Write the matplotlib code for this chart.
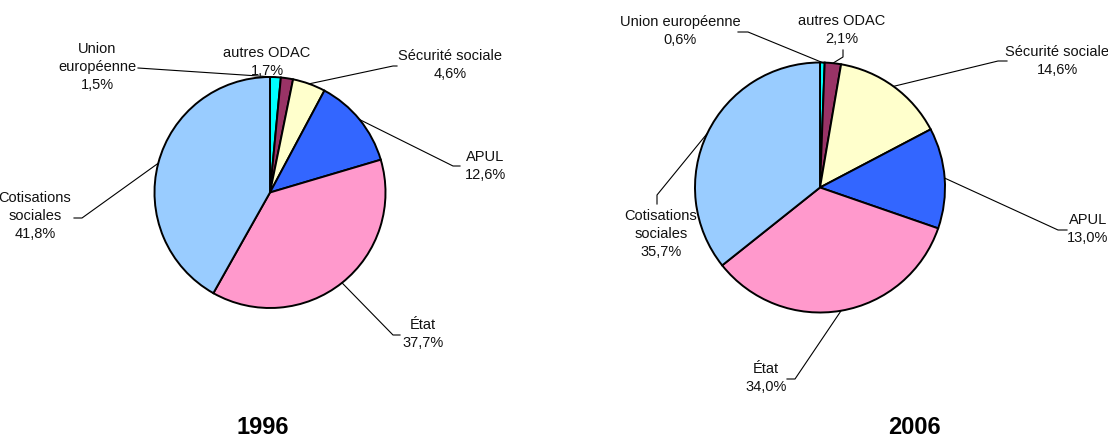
import numpy as np
import matplotlib
matplotlib.use("Agg")
import matplotlib.pyplot as plt

plt.rcParams['font.family'] = ['Liberation Sans', 'DejaVu Sans']

# data
labels = ["Union européenne", "autres ODAC", "Sécurité sociale", "APUL", "État", "Cotisations sociales"]
colors = ["#00FFFF", "#993366", "#FFFFCC", "#3366FF", "#FF99CC", "#99CCFF"]
v1996 = [1.5, 1.7, 4.6, 12.6, 37.7, 41.8]
v2006 = [0.6, 2.1, 14.6, 13.0, 34.0, 35.7]
years = ["1996", "2006"]

# label text (line breaks as in the original)
txt1996 = ["Union\neuropéenne", "autres ODAC", "Sécurité sociale", "APUL", "État", "Cotisations\nsociales"]
txt2006 = ["Union européenne", "autres ODAC", "Sécurité sociale", "APUL", "État", "Cotisations\nsociales"]

W, H = 1108, 438

def fy(y):
    return H - y

# layout in pixels (x, y from top)
pies = [
    dict(center=(270, 192.5), r=115.5, title=(263, 427),
         text=[(97, 67), (267, 62), (450, 65), (485, 166), (423, 334), (35, 216)],
         lead=[[(138, 68)], None, [(397, 66), (393, 66)], [(460, 166), (453, 166)],
               [(400, 335), (393, 335)], [(74, 218), (82, 218)]]),
    dict(center=(820, 187.5), r=125, title=(914, 427),
         text=[(680, 31), (842, 30), (1057, 61), (1088, 229), (766, 378), (661, 234)],
         lead=[[(738, 32), (748, 32)], [(843, 50), (843, 57)], [(1007, 61), (998, 61)],
               [(1067, 230), (1058, 230)], [(787, 379), (795, 379)], [(657, 204), (657, 195)]]),
]

fig = plt.figure(figsize=(W / 100, H / 100), dpi=100)
ax = fig.add_axes([0, 0, 1, 1])

for vals, txts, year, lay in zip([v1996, v2006], [txt1996, txt2006], years, pies):
    cx, cy = lay["center"]
    r = lay["r"]
    ax.pie(vals, colors=colors, startangle=90, counterclock=False,
           center=(cx, fy(cy)), radius=r,
           wedgeprops=dict(edgecolor="black", linewidth=1.4))
    tot = sum(vals)
    cum = np.cumsum([0] + vals[:-1])
    for i, v in enumerate(vals):
        frac = (cum[i] + v / 2) / tot
        ang = np.deg2rad(frac * 360)
        px = cx + r * np.sin(ang)
        py = cy - r * np.cos(ang)
        s = txts[i] + "\n" + ("%.1f%%" % v).replace(".", ",")
        tx, ty = lay["text"][i]
        ax.text(tx, fy(ty), s, ha="center", va="center", multialignment="center",
                fontsize=10.5, linespacing=1.4, color="#111111")
        pts = lay["lead"][i]
        if pts:
            xs = [p[0] for p in pts] + [px]
            ys = [fy(p[1]) for p in pts] + [fy(py)]
            ax.plot(xs, ys, color="black", lw=0.8)
    tx, ty = lay["title"]
    ax.text(tx, fy(ty), year, ha="center", va="center", fontsize=17, fontweight="bold")

ax.set_xlim(0, W)
ax.set_ylim(0, H)
ax.set_aspect("equal")
ax.axis("off")

fig.savefig("out.png", dpi=100)
